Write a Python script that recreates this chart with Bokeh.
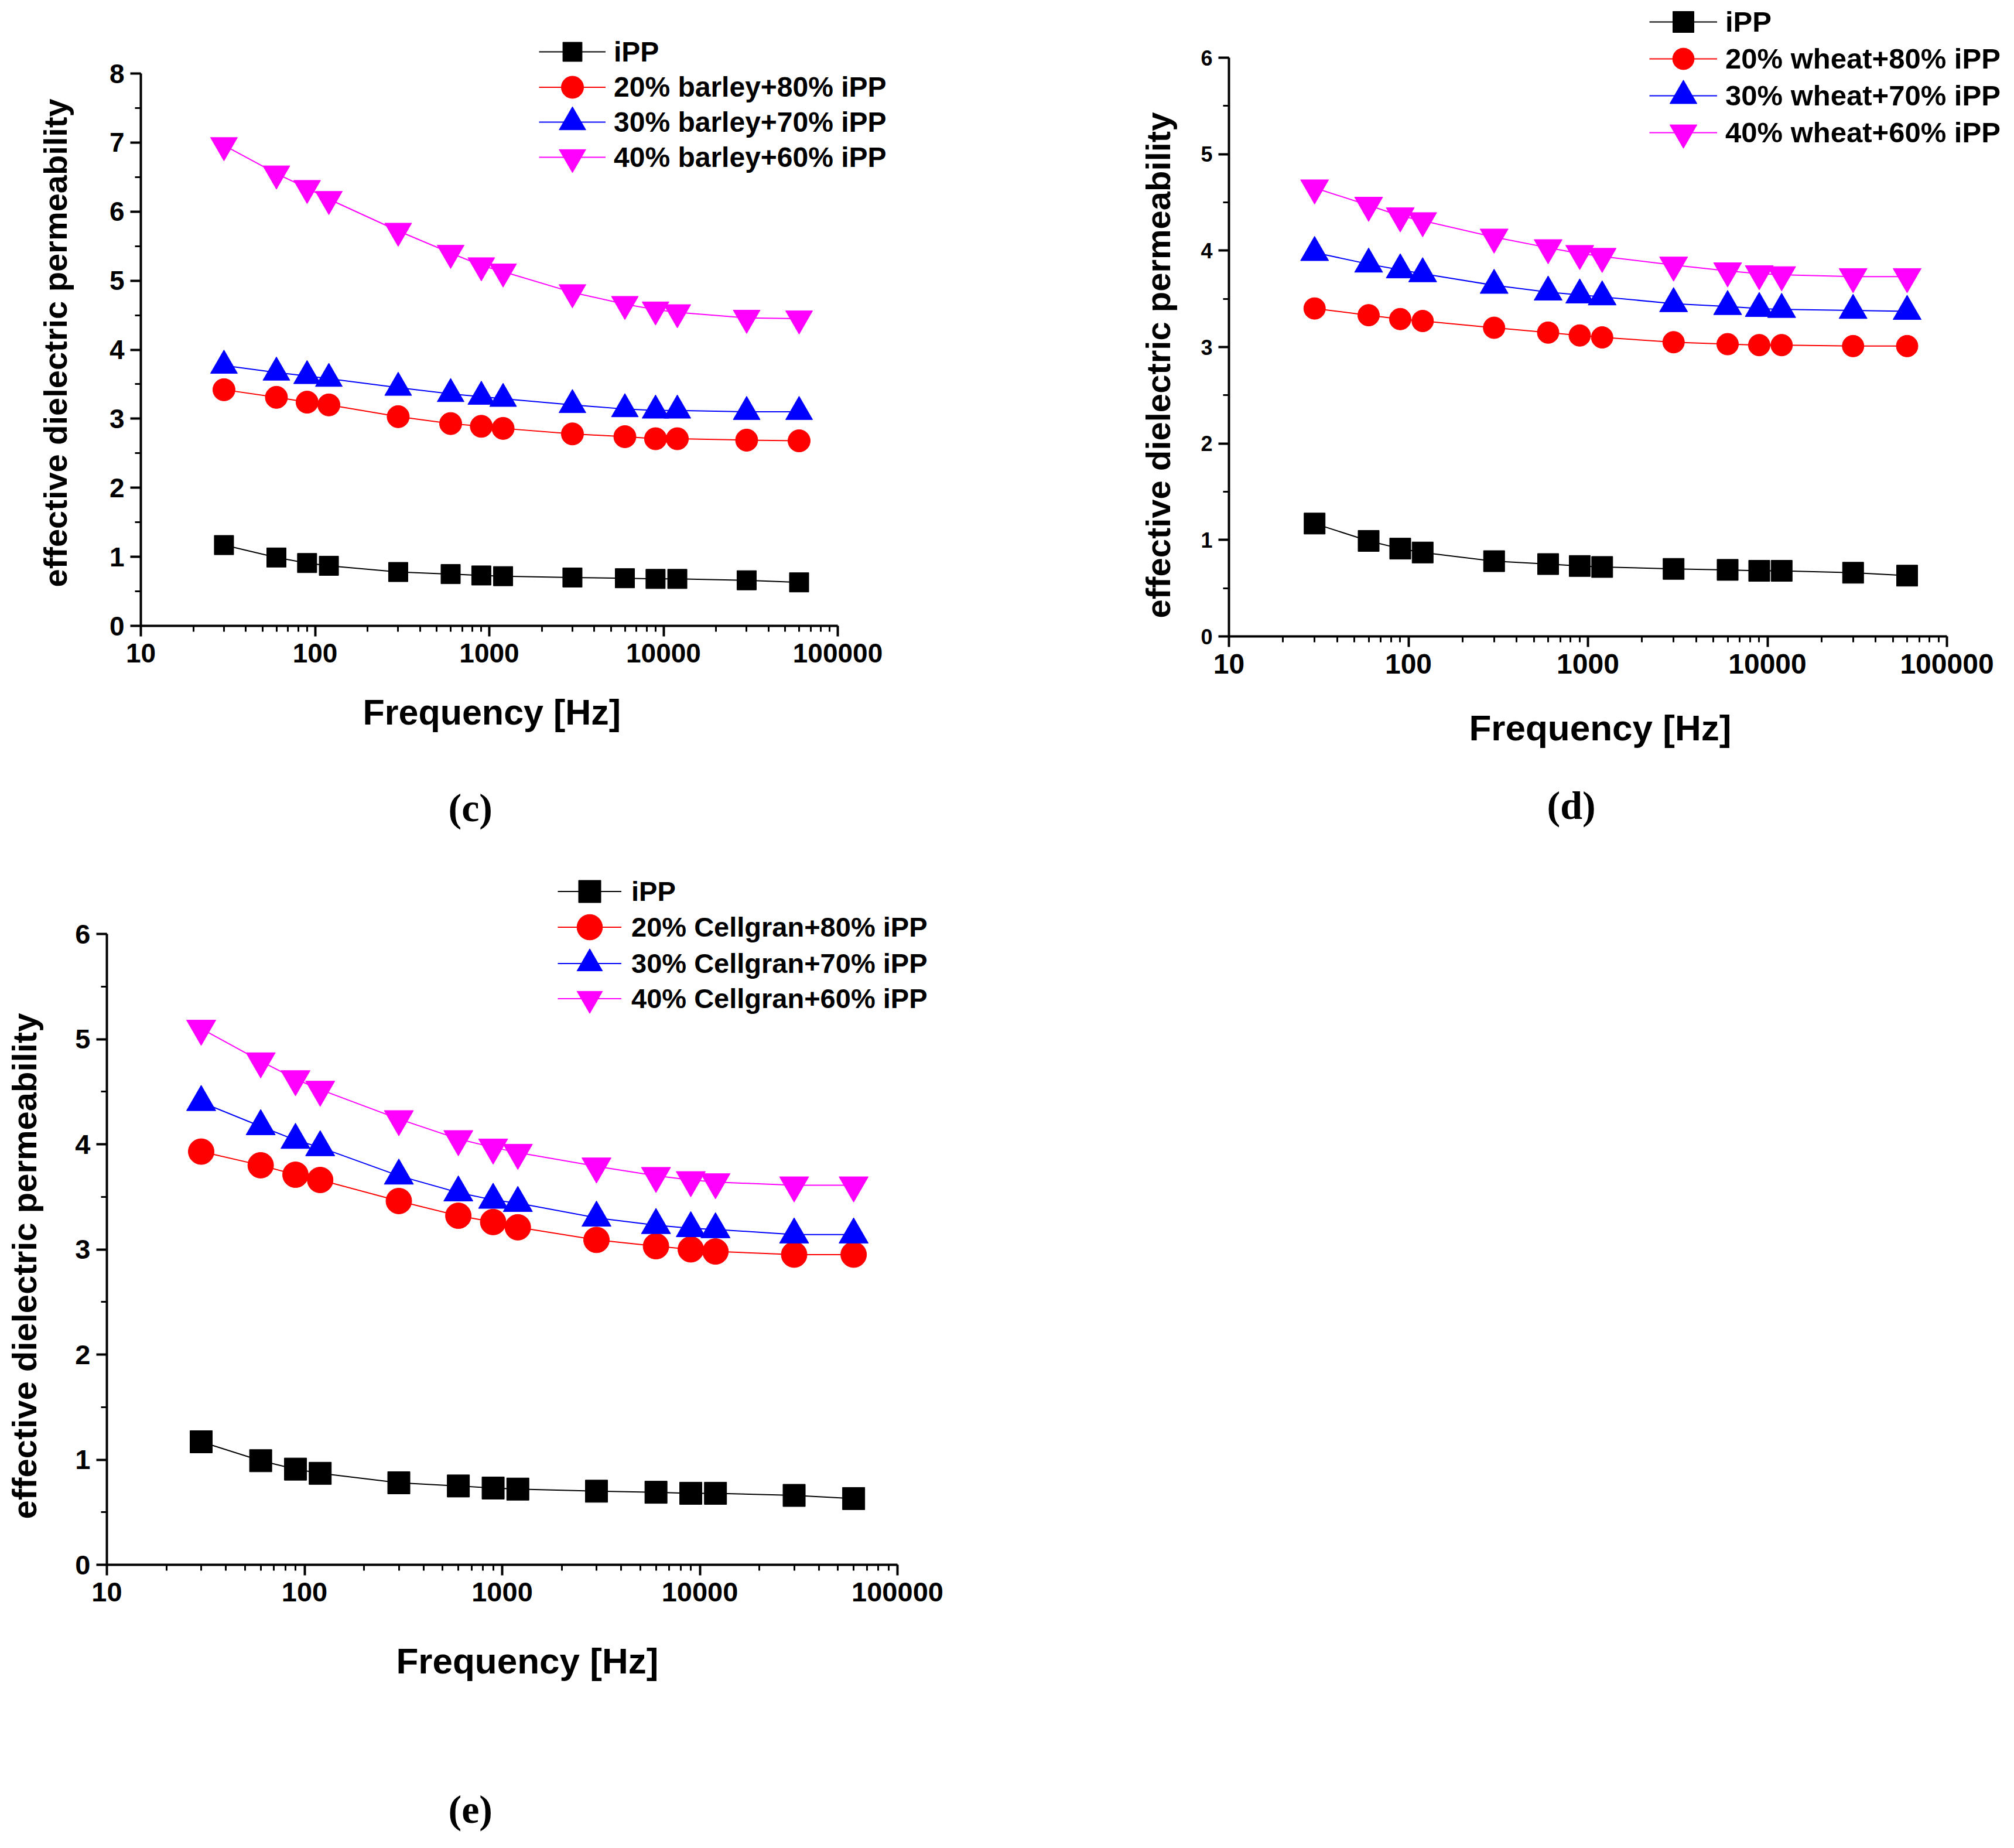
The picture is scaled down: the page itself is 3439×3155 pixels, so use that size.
from bokeh.plotting import figure
from bokeh.models import (Range1d, LogTicker, SingleIntervalTicker, FixedTicker,
                          PrintfTickFormatter, Legend, LegendItem, Title, LinearAxis)
from bokeh.layouts import column, row
from bokeh.embed import file_html
from bokeh.resources import INLINE

# frequencies shared by all three panels
freq = [30, 60, 90, 120, 300, 600, 900, 1200, 3000, 6000, 9000, 12000, 30000, 60000]

ipp = [1.17, 0.99, 0.91, 0.87, 0.78, 0.75, 0.73, 0.72, 0.70, 0.69, 0.68, 0.68, 0.66, 0.63]

# (c) barley
barley20 = [3.42, 3.31, 3.24, 3.20, 3.03, 2.93, 2.89, 2.86, 2.78, 2.74, 2.71, 2.71, 2.69, 2.68]
barley30 = [3.77, 3.67, 3.62, 3.58, 3.45, 3.36, 3.32, 3.29, 3.20, 3.14, 3.12, 3.12, 3.10, 3.10]
barley40 = [6.96, 6.55, 6.34, 6.18, 5.72, 5.40, 5.22, 5.13, 4.83, 4.66, 4.58, 4.54, 4.46, 4.45]

# (d) wheat
wheat20 = [3.40, 3.33, 3.29, 3.27, 3.20, 3.15, 3.12, 3.10, 3.05, 3.03, 3.02, 3.02, 3.01, 3.01]
wheat30 = [3.98, 3.86, 3.80, 3.76, 3.64, 3.57, 3.54, 3.52, 3.45, 3.42, 3.40, 3.39, 3.38, 3.37]
wheat40 = [4.65, 4.47, 4.36, 4.31, 4.14, 4.03, 3.97, 3.94, 3.85, 3.79, 3.76, 3.75, 3.73, 3.73]

# (e) Cellgran
cell20 = [3.93, 3.80, 3.71, 3.66, 3.46, 3.32, 3.26, 3.21, 3.09, 3.03, 3.00, 2.98, 2.95, 2.95]
cell30 = [4.40, 4.17, 4.04, 3.97, 3.70, 3.54, 3.47, 3.44, 3.30, 3.23, 3.20, 3.19, 3.14, 3.14]
cell40 = [5.10, 4.79, 4.62, 4.52, 4.24, 4.05, 3.97, 3.92, 3.79, 3.70, 3.66, 3.64, 3.61, 3.61]

labels_c = ["iPP", "20% barley+80% iPP", "30% barley+70% iPP", "40% barley+60% iPP"]
labels_d = ["iPP", "20% wheat+80% iPP", "30% wheat+70% iPP", "40% wheat+60% iPP"]
labels_e = ["iPP", "20% Cellgran+80% iPP", "30% Cellgran+70% iPP", "40% Cellgran+60% iPP"]

colors = ["black", "#FF0000", "#0000FF", "#FF00FF"]
markers = ["square", "circle", "triangle", "inverted_triangle"]

SANS = "Liberation Sans"


def gap(p, side, px, at):
    # blank axis used only as a spacer between stacked side panels
    sp = LinearAxis(ticker=FixedTicker(ticks=[at]), axis_line_color=None,
                    major_tick_out=px, major_tick_in=0, minor_tick_out=0, minor_tick_in=0,
                    major_tick_line_color="white", minor_tick_line_color=None,
                    major_label_standoff=0, major_label_text_font_size="1px",
                    major_label_text_color=None)
    p.add_layout(sp, side)


def panel(series, labels, ymax, caption, fig, axes_px, sizes, fonts, leg, titles):
    # fig: (left, top, width, height) of the figure on the page
    # axes_px: (x at 10, x at 1e5, y at ymax, y at 0, frame right, frame top);
    # the frame is larger than the axes so that the legend is not clipped
    fx, fy, w, h = fig
    ax0, ax1, ay1, ay0, fr, ft = axes_px
    dec = (ax1 - ax0) / 4.0
    x_end = 10 ** (1 + (fr - ax0) / dec)
    y_end = ymax * (ay0 - ft) / (ay0 - ay1)

    p = figure(width=w, height=h, x_axis_type="log",
               x_range=Range1d(10, x_end), y_range=Range1d(0, y_end),
               output_backend="svg", toolbar_location=None,
               min_border_left=ax0 - fx, min_border_right=fx + w - fr,
               min_border_top=ft - fy, min_border_bottom=fy + h - ay0)
    p.outline_line_color = None
    p.grid.visible = False

    xt, yt, xtitle, ytitle, legfont = fonts

    p.xaxis.ticker = LogTicker(num_minor_ticks=10)
    p.xaxis.formatter = PrintfTickFormatter(format="%d")
    p.yaxis.ticker = SingleIntervalTicker(interval=1, num_minor_ticks=2)
    p.xaxis.bounds = (10, 100000)
    p.yaxis.bounds = (0, ymax)

    for ax in (p.xaxis, p.yaxis):
        ax.axis_line_width = 4
        ax.axis_line_color = "black"
        ax.major_tick_line_width = 4
        ax.minor_tick_line_width = 3
        ax.major_tick_out = 18
        ax.major_tick_in = 0
        ax.minor_tick_out = 10
        ax.minor_tick_in = 0
        ax.major_label_text_font = SANS
        ax.major_label_text_font_style = "bold"
        ax.major_label_text_color = "black"
    p.xaxis.major_label_text_font_size = xt
    p.yaxis.major_label_text_font_size = yt
    p.xaxis.major_label_standoff = 12
    p.yaxis.major_label_standoff = 10
    p.yaxis.major_label_orientation = "horizontal"

    rends = []
    for ys, col, mk, sz in zip(series, colors, markers, sizes):
        lr = p.line(freq, ys, line_color=col, line_width=2)
        sr = p.scatter(freq, ys, marker=mk, size=sz, fill_color=col, line_color=col)
        rends.append([lr, sr])

    # one legend per row so that each legend marker keeps the size of the plot marker
    rows_y, gx, gw, ls = leg
    for lab, rr, sz, ry in zip(labels, rends, sizes, rows_y):
        gh = int(round(min(sz / 0.4, gw)))
        lg = Legend(items=[LegendItem(label=lab, renderers=rr)],
                    location=(int(gx - ax0), int(round(ay0 - ry - gh / 2.0))),
                    glyph_width=gw, glyph_height=gh, label_height=gh,
                    label_standoff=ls, padding=0, margin=0, spacing=0,
                    border_line_color=None, background_fill_alpha=0,
                    label_text_font=SANS, label_text_font_style="bold",
                    label_text_font_size=legfont, label_text_color="black")
        p.add_layout(lg)

    (yoff, ygap), (xoff, xgap), (coff, cgap) = titles
    gap(p, "left", ygap, 0)
    p.add_layout(Title(text="effective dielectric permeability", align="left",
                       offset=yoff, standoff=0, text_font=SANS,
                       text_font_style="bold", text_font_size=ytitle,
                       text_color="black"), "left")
    gap(p, "below", xgap, 10)
    p.add_layout(Title(text="Frequency [Hz]", align="left", offset=xoff, standoff=0,
                       text_font=SANS, text_font_style="bold", text_font_size=xtitle,
                       text_color="black"), "below")
    gap(p, "below", cgap, 10)
    p.add_layout(Title(text=caption, align="left", offset=coff, standoff=0,
                       text_font="Liberation Serif", text_font_style="bold",
                       text_font_size="68px", text_color="black"), "below")
    return p


pc = panel([ipp, barley20, barley30, barley40], labels_c, 8, "(c)",
           (0, 0, 1712, 1440), (240, 1430, 125, 1068, 1600, 35), [33, 38, 46, 46],
           ("46px", "46px", "61px", "56px", "48px"),
           ([88, 148, 208, 268], 920, 114, 14),
           ((66, 58), (379, 46), (525, 89)))

pd_ = panel([ipp, wheat20, wheat30, wheat40], labels_d, 6, "(d)",
            (1712, 0, 1711, 1440), (2098, 3324, 98, 1086, 3423, 8), [36, 37, 48, 48],
            ("48px", "36px", "62px", "58px", "49px"),
            ([37, 100, 163, 226], 2816, 116, 14),
            ((31, 38), (410, 53), (543, 58)))

pe = panel([ipp, cell20, cell30, cell40], labels_e, 6, "(e)",
           (0, 1440, 1712, 1699), (182, 1532, 1594, 2671, 1680, 1460), [38, 44, 50, 50],
           ("47px", "47px", "62px", "58px", "47px"),
           ([1521, 1583, 1644, 1705], 952, 109, 17),
           ((78, 52), (494, 62), (583, 179)))

layout = row(column(row(pc), row(pe)), column(pd_))

open("out.html", "w").write(file_html(layout, INLINE))
